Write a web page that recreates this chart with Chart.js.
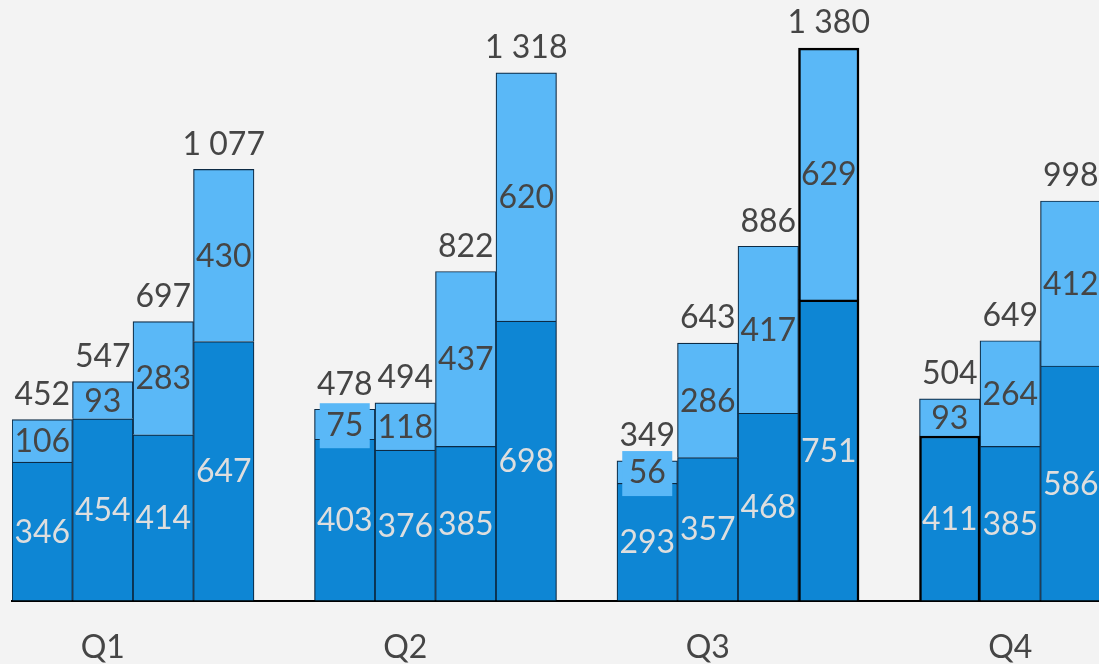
<!DOCTYPE html>
<html>
<head>
<meta charset="utf-8">
<script src="https://cdn.jsdelivr.net/npm/chart.js@4.4.1/dist/chart.umd.min.js"></script>
<style>
  html, body { margin: 0; padding: 0; background: #f3f3f3; overflow: hidden; }
  #wrap { position: relative; width: 1102px; height: 694px; }
</style>
</head>
<body>
<div id="wrap"><canvas id="chart"></canvas></div>
<script>
// Werte je Quartal (das vierte Q4-Balkenpaar liegt außerhalb des Bildes)
const quarters = ['Q1', 'Q2', 'Q3', 'Q4'];
const baseValues = [
  [346, 454, 414, 647],
  [403, 376, 385, 698],
  [293, 357, 468, 751],
  [411, 385, 586]
];
const addedValues = [
  [106, 93, 283, 430],
  [75, 118, 437, 620],
  [56, 286, 417, 629],
  [93, 264, 412]
];
// Summen wie im Bild (gerundet, daher nicht immer exakt die Summe)
const totalValues = [
  [452, 547, 697, 1077],
  [478, 494, 822, 1318],
  [349, 643, 886, 1380],
  [504, 649, 998]
];

const darkBlue = '#0e86d4';
const lightBlue = '#5ab8f7';
const edge = '#0c2a44';

// Slots aufbauen: vier Balken je Quartal, ein leerer Slot dazwischen
const labels = [], base = [], added = [], totals = [];
quarters.forEach((q, i) => {
  if (i > 0) { labels.push(''); base.push(null); added.push(null); totals.push(null); }
  baseValues[i].forEach((v, j) => {
    labels.push(j === 1 ? q : '');
    base.push(v);
    added.push(addedValues[i][j]);
    totals.push(totalValues[i][j]);
  });
});

// markierte Balken (dicker schwarzer Rand)
const baseBold = [15];
const addedBold = [];
const boldBoth = [13];

function bw(bold) {
  return base.map((_, i) => (bold.includes(i) || boldBoth.includes(i)) ? 2.5 : 1.2);
}
function bc(bold) {
  return base.map((_, i) => (bold.includes(i) || boldBoth.includes(i)) ? '#000' : edge);
}

function fmt(v) {
  return String(v).replace(/\B(?=(\d{3})+(?!\d))/g, ' ');
}

const labelPlugin = {
  id: 'valueLabels',
  afterDatasetsDraw(chart) {
    const ctx = chart.ctx;
    ctx.save();
    ctx.font = '32px Lato';
    ctx.textAlign = 'center';
    ctx.textBaseline = 'middle';
    const m0 = chart.getDatasetMeta(0);
    const m1 = chart.getDatasetMeta(1);
    m0.data.forEach((bar, i) => {
      if (base[i] == null) return;
      const top = m1.data[i];
      // unteres Segment
      ctx.fillStyle = '#dedede';
      ctx.fillText(fmt(base[i]), bar.x, (bar.y + bar.base) / 2 + 1);
      // oberes Segment
      const h = top.base - top.y;
      const cy = (top.y + top.base) / 2 + 1;
      if (h < 34) {
        ctx.fillStyle = lightBlue;
        ctx.fillRect(bar.x - 25, cy - 22, 50, 45);
      }
      ctx.fillStyle = '#454545';
      ctx.fillText(fmt(added[i]), bar.x, cy);
      // Summe
      ctx.fillText(fmt(totals[i]), bar.x, top.y - 25);
    });
    ctx.restore();
  }
};

new Chart(document.getElementById('chart'), {
  type: 'bar',
  data: {
    labels: labels,
    datasets: [{
      data: base,
      backgroundColor: darkBlue,
      borderColor: bc(baseBold),
      borderWidth: bw(baseBold)
    }, {
      data: added,
      backgroundColor: lightBlue,
      borderColor: bc(addedBold),
      borderWidth: bw(addedBold)
    }]
  },
  options: {
    responsive: true,
    maintainAspectRatio: false,
    animation: false,
    layout: { padding: { left: 12, right: 1, top: 0, bottom: 0 } },
    datasets: { bar: { barPercentage: 1, categoryPercentage: 1 } },
    scales: {
      x: {
        stacked: true,
        grid: { display: false, drawTicks: false },
        border: { display: true, color: '#000', width: 2 },
        ticks: {
          autoSkip: false,
          maxRotation: 0,
          color: '#454545',
          padding: 27.5,
          font: { family: 'Lato', size: 32 }
        }
      },
      y: {
        stacked: true,
        display: false,
        min: 0,
        max: 1500
      }
    },
    plugins: {
      legend: { display: false },
      tooltip: { enabled: false }
    }
  },
  plugins: [labelPlugin]
});
</script>
</body>
</html>
